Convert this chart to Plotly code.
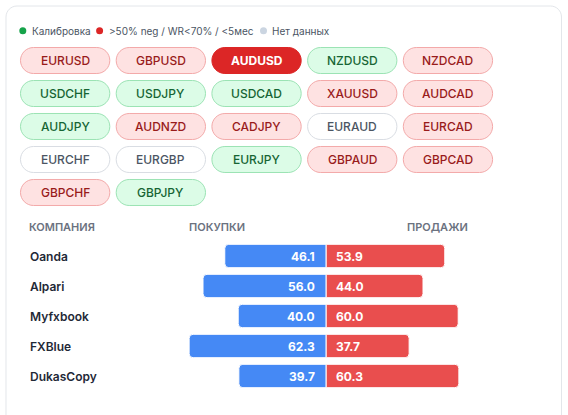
import plotly.graph_objects as go

# ---------------- data ----------------
pairs = ["EURUSD", "GBPUSD", "AUDUSD", "NZDUSD", "NZDCAD",
         "USDCHF", "USDJPY", "USDCAD", "XAUUSD", "AUDCAD",
         "AUDJPY", "AUDNZD", "CADJPY", "EURAUD", "EURCAD",
         "EURCHF", "EURGBP", "EURJPY", "GBPAUD", "GBPCAD",
         "GBPCHF", "GBPJPY"]
pair_status = ["neg", "neg", "active", "cal", "neg",
               "cal", "cal", "cal", "neg", "neg",
               "cal", "neg", "neg", "none", "neg",
               "none", "none", "cal", "neg", "neg",
               "neg", "cal"]
legend_labels = ["Калибровка", ">50% neg / WR<70% / <5мес", "Нет данных"]
companies = ["Oanda", "Alpari", "Myfxbook", "FXBlue", "DukasCopy"]
buy_pct = [46.1, 56.0, 40.0, 62.3, 39.7]
sell_pct = [53.9, 44.0, 60.0, 37.7, 60.3]
headers = ["КОМПАНИЯ", "ПОКУПКИ", "ПРОДАЖИ"]

# ---------------- layout helpers ----------------
W, H = 568, 415
FONT = "Inter"


def fx(x):
    return x / W


def fy(y):
    return 1 - y / H


def rrect_path(x0, y0, x1, y1, r):
    k = 0.5523 * r
    pts = [
        ("M", [(x0 + r, y0)]),
        ("L", [(x1 - r, y0)]),
        ("C", [(x1 - r + k, y0), (x1, y0 + r - k), (x1, y0 + r)]),
        ("L", [(x1, y1 - r)]),
        ("C", [(x1, y1 - r + k), (x1 - r + k, y1), (x1 - r, y1)]),
        ("L", [(x0 + r, y1)]),
        ("C", [(x0 + r - k, y1), (x0, y1 - r + k), (x0, y1 - r)]),
        ("L", [(x0, y0 + r)]),
        ("C", [(x0, y0 + r - k), (x0 + r - k, y0), (x0 + r, y0)]),
    ]
    s = ""
    for cmd, ps in pts:
        s += cmd + " " + " ".join(f"{fx(a):.5f},{fy(b):.5f}" for a, b in ps) + " "
    return s + "Z"


STYLE = {
    "neg": dict(fill="#fee2e2", line="#f3a9a9", text="#991b1b", weight=500),
    "cal": dict(fill="#dcfce7", line="#9be3b4", text="#166534", weight=500),
    "none": dict(fill="#ffffff", line="#d9dde3", text="#4b5563", weight=500),
    "active": dict(fill="#dc2626", line="#dc2626", text="#ffffff", weight=700),
}

shapes = []
annotations = []

# card
shapes.append(dict(type="path", xref="paper", yref="paper",
                    path=rrect_path(6, 6, 561.5, 440, 11),
                    line=dict(color="#e3e6ea", width=1), fillcolor="#ffffff",
                    layer="below"))

# legend
dot_colors = ["#16a34a", "#dc2626", "#cbd5e1"]
dot_x = [22.8, 99.6, 263.5]
text_x = [29.5, 106.5, 269.5]
LY = 30.8
for lab, c, dx, tx in zip(legend_labels, dot_colors, dot_x, text_x):
    shapes.append(dict(type="circle", xref="paper", yref="paper",
                       x0=fx(dx - 3.5), x1=fx(dx + 3.5), y0=fy(LY + 3.5), y1=fy(LY - 3.5),
                       fillcolor=c, line=dict(width=0)))
    annotations.append(dict(xref="paper", yref="paper", x=fx(tx), y=fy(LY),
                            xanchor="left", yanchor="middle", showarrow=False,
                            text=lab, font=dict(family=FONT, size=10, color="#4b5563")))

# chips
CX0, CPITCH, CW = 20.5, 95.7, 89.3
RY0, RPITCH, CH = 60.5, 33.0, 26.0
for i, (p, st) in enumerate(zip(pairs, pair_status)):
    r, c = divmod(i, 5)
    x0 = CX0 + c * CPITCH
    yc = RY0 + r * RPITCH
    s = STYLE[st]
    shapes.append(dict(type="path", xref="paper", yref="paper",
                       path=rrect_path(x0, yc - CH / 2, x0 + CW, yc + CH / 2, CH / 2),
                       fillcolor=s["fill"], line=dict(color=s["line"], width=1)))
    annotations.append(dict(xref="paper", yref="paper", x=fx(x0 + CW / 2), y=fy(yc),
                            xanchor="center", yanchor="middle", showarrow=False, text=p,
                            font=dict(family=FONT, size=12, color=s["text"], weight=s["weight"])))

# table headers
hx = [26.7, 186.6, 404.7]
for h, x in zip(headers, hx):
    annotations.append(dict(xref="paper", yref="paper", x=fx(x), y=fy(227),
                            xanchor="left", yanchor="middle", showarrow=False, text=h,
                            font=dict(family=FONT, size=11, color="#6b7280", weight=600)))

# ---------------- bars ----------------
rows = list(range(len(companies)))
ROW0, RSTEP = 256.0, 30.0           # pixel centre of first row, row pitch
CENTER, PXU = 326.2, 2.2            # pixel of 0%, pixels per percentage point

fig = go.Figure()
fig.add_trace(go.Bar(y=rows, x=[-v for v in buy_pct], orientation="h", width=0.78,
                     marker=dict(color="#4589f5", cornerradius=4,
                                 line=dict(color="#ffffff", width=1)),
                     hoverinfo="skip", showlegend=False))
fig.add_trace(go.Bar(y=rows, x=sell_pct, orientation="h", width=0.78,
                     marker=dict(color="#e94e4e", cornerradius=4,
                                 line=dict(color="#ffffff", width=1)),
                     hoverinfo="skip", showlegend=False))

for i, (name, b, s) in enumerate(zip(companies, buy_pct, sell_pct)):
    annotations.append(dict(xref="paper", yref="y", x=fx(27.5), y=i, xanchor="left",
                            yanchor="middle", showarrow=False, text=name,
                            font=dict(family=FONT, size=12, color="#1f2937", weight=600)))
    annotations.append(dict(xref="x", yref="y", x=0, y=i, xshift=-9, xanchor="right",
                            yanchor="middle", showarrow=False, text=f"{b:.1f}",
                            font=dict(family=FONT, size=12, color="#ffffff", weight=700)))
    annotations.append(dict(xref="x", yref="y", x=0, y=i, xshift=8, xanchor="left",
                            yanchor="middle", showarrow=False, text=f"{s:.1f}",
                            font=dict(family=FONT, size=12, color="#ffffff", weight=700)))

fig.update_layout(
    width=W, height=H, autosize=False,
    margin=dict(l=0, r=0, t=0, b=0),
    paper_bgcolor="#ffffff", plot_bgcolor="rgba(0,0,0,0)",
    barmode="overlay",
    xaxis=dict(range=[-CENTER / PXU, (W - CENTER) / PXU], visible=False, fixedrange=True),
    yaxis=dict(range=[(H - ROW0) / RSTEP, -ROW0 / RSTEP], visible=False, fixedrange=True),
    shapes=shapes, annotations=annotations,
    font=dict(family=FONT),
)

fig.write_html("out.html", config={"displayModeBar": False},
               post_script="document.body.style.margin='0';document.body.style.overflow='hidden';")
